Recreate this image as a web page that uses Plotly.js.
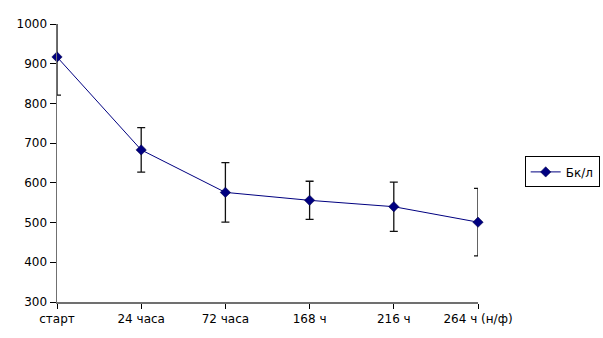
<!DOCTYPE html>
<html>
<head>
<meta charset="utf-8">
<script src="https://cdn.plot.ly/plotly-3.0.1.min.js"></script>
<style>
  html, body { margin: 0; padding: 0; background: #fff; }
  #chart { width: 603px; height: 338px; }
</style>
</head>
<body>
<div id="chart"></div>
<script>
// Activity over time (Bq/L) with error bars
const categories = ['старт', '24 часа', '72 часа', '168 ч', '216 ч', '264 ч (н/ф)'];
const values     = [917, 683, 576, 556, 540, 501];
const errors     = [96, 56, 75, 48, 62, 85];
const seriesName = 'Бк/л';
const yTicks     = [300, 400, 500, 600, 700, 800, 900, 1000];

const font = { family: 'DejaVu Sans, Arial, sans-serif', size: 12, color: '#000' };

const trace = {
  type: 'scatter',
  mode: 'lines+markers',
  name: seriesName,
  x: categories,
  y: values,
  cliponaxis: false,
  line: { color: '#000080', width: 1 },
  marker: { symbol: 'diamond', size: 8, color: '#000080', line: { color: '#000040', width: 0.5 } },
  error_y: { type: 'data', array: errors, visible: true, color: '#111', thickness: 1.3, width: 4 }
};

const layout = {
  width: 603,
  height: 338,
  margin: { l: 57, r: 125, t: 24, b: 36, autoexpand: false },
  paper_bgcolor: '#fff',
  plot_bgcolor: '#fff',
  font: font,
  showlegend: true,
  xaxis: {
    type: 'category',
    range: [0, categories.length - 1],
    showgrid: false,
    zeroline: false,
    showline: true,
    linecolor: '#707070',
    linewidth: 1.5,
    ticks: 'outside',
    ticklen: 5,
    tickcolor: '#000',
    tickfont: font,
    fixedrange: true
  },
  yaxis: {
    range: [300, 1000],
    tickvals: yTicks,
    showgrid: false,
    zeroline: false,
    showline: true,
    linecolor: '#707070',
    linewidth: 1.5,
    ticks: 'outside',
    ticklen: 6,
    tickcolor: '#000',
    tickfont: font,
    fixedrange: true
  },
  legend: {
    x: 1.2, y: 0.468, xanchor: 'center', yanchor: 'middle',
    bordercolor: '#000', borderwidth: 1,
    bgcolor: '#fff',
    font: font,
    itemwidth: 30,
    tracegroupgap: 0
  }
};

Plotly.newPlot('chart', [trace], layout, { displayModeBar: false, staticPlot: true });
</script>
</body>
</html>
